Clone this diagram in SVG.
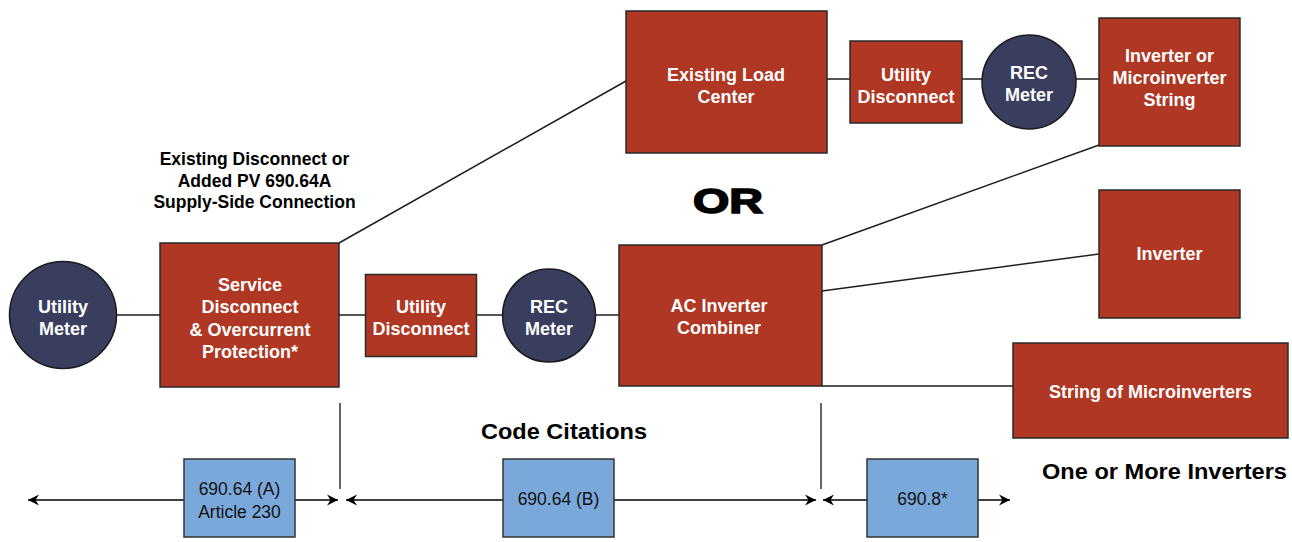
<svg xmlns="http://www.w3.org/2000/svg" width="1292" height="542" viewBox="0 0 1292 542">
<style>
.red{fill:#AF3723;stroke:#2a2a2a;stroke-width:1.5}
.navy{fill:#393D5E;stroke:#1a1a1a;stroke-width:1.5}
.blue{fill:#7BA8DA;stroke:#333;stroke-width:1.5}
.wt{font-family:"Liberation Sans",Arial,sans-serif;font-weight:bold;font-size:18px;fill:#fff;text-anchor:middle}
.bt{font-family:"Liberation Sans",Arial,sans-serif;font-size:17.5px;fill:#111;text-anchor:middle}
.hd{font-family:"Liberation Sans",Arial,sans-serif;font-weight:bold;fill:#000;text-anchor:middle}
.ln{stroke:#1e1e1e;stroke-width:1.5;fill:none}
.vl{stroke:#555;stroke-width:1.8;fill:none}
.ar{stroke:#000;stroke-width:1.5;fill:none;marker-end:url(#ah)}
</style>
<defs>
<marker id="ah" viewBox="0 0 12 12" refX="11" refY="6" markerWidth="12" markerHeight="12" markerUnits="userSpaceOnUse" orient="auto">
<path d="M11,6 L0,0.5 L3.5,6 L0,11.5 Z" fill="#000"/>
</marker>
</defs>
<rect width="1292" height="542" fill="#fff"/>
<g id="connectors">
<line class="ln" x1="116" y1="315" x2="160" y2="315"/>
<line class="ln" x1="339" y1="315" x2="365" y2="315"/>
<line class="ln" x1="477" y1="315" x2="502" y2="315"/>
<line class="ln" x1="596" y1="315" x2="619" y2="315"/>
<line class="ln" x1="339" y1="243" x2="626" y2="81"/>
<line class="ln" x1="827" y1="79" x2="850" y2="79"/>
<line class="ln" x1="962" y1="79" x2="982" y2="79"/>
<line class="ln" x1="1076" y1="79" x2="1099" y2="79"/>
<line class="ln" x1="822" y1="245" x2="1099" y2="145"/>
<line class="ln" x1="822" y1="291" x2="1099" y2="254"/>
<line class="ln" x1="822" y1="386" x2="1013" y2="386"/>
<line class="vl" x1="340" y1="403" x2="340" y2="489"/>
<line class="vl" x1="821" y1="403" x2="821" y2="489"/>
<line class="ar" x1="184" y1="500" x2="28" y2="500"/>
<line class="ar" x1="295" y1="500" x2="338" y2="500"/>
<line class="ar" x1="503" y1="500" x2="346" y2="500"/>
<line class="ar" x1="614" y1="500" x2="816" y2="500"/>
<line class="ar" x1="867" y1="500" x2="823" y2="500"/>
<line class="ar" x1="978" y1="500" x2="1010" y2="500"/>
</g>
<g id="utility-meter">
<circle class="navy" cx="63" cy="315" r="53.5"/>
<text class="wt" x="63" y="313">Utility</text>
<text class="wt" x="63" y="335">Meter</text>
</g>
<g id="service-disconnect">
<rect class="red" x="160" y="243" width="179" height="144"/>
<text class="wt" x="250" y="291">Service</text>
<text class="wt" x="250" y="313">Disconnect</text>
<text class="wt" x="250" y="335.5">&amp; Overcurrent</text>
<text class="wt" x="250" y="357.5">Protection*</text>
</g>
<g id="utility-disconnect-1">
<rect class="red" x="365.5" y="274.5" width="111" height="82"/>
<text class="wt" x="421" y="313">Utility</text>
<text class="wt" x="421" y="335">Disconnect</text>
</g>
<g id="rec-meter-1">
<circle class="navy" cx="549" cy="315.5" r="46.5"/>
<text class="wt" x="549" y="313">REC</text>
<text class="wt" x="549" y="335">Meter</text>
</g>
<g id="ac-combiner">
<rect class="red" x="619" y="245" width="203" height="141"/>
<text class="wt" x="719" y="312">AC Inverter</text>
<text class="wt" x="719" y="334">Combiner</text>
</g>
<g id="load-center">
<rect class="red" x="626" y="11" width="201" height="142"/>
<text class="wt" x="726" y="81">Existing Load</text>
<text class="wt" x="726" y="103">Center</text>
</g>
<g id="utility-disconnect-2">
<rect class="red" x="850" y="41" width="112" height="82"/>
<text class="wt" x="906" y="81">Utility</text>
<text class="wt" x="906" y="103">Disconnect</text>
</g>
<g id="rec-meter-2">
<circle class="navy" cx="1029" cy="82" r="47"/>
<text class="wt" x="1029" y="79">REC</text>
<text class="wt" x="1029" y="101">Meter</text>
</g>
<g id="inverter-string">
<rect class="red" x="1099" y="18" width="141" height="128"/>
<text class="wt" x="1169.5" y="62">Inverter or</text>
<text class="wt" x="1169.5" y="84">Microinverter</text>
<text class="wt" x="1169.5" y="106">String</text>
</g>
<g id="inverter">
<rect class="red" x="1099" y="190" width="141" height="128"/>
<text class="wt" x="1169.5" y="260">Inverter</text>
</g>
<g id="string-micro">
<rect class="red" x="1013" y="343" width="275" height="95"/>
<text class="wt" x="1150.5" y="398">String of Microinverters</text>
</g>
<g id="box-a">
<rect class="blue" x="184" y="459" width="111" height="78"/>
<text class="bt" x="239.5" y="495">690.64 (A)</text>
<text class="bt" x="239.5" y="518">Article 230</text>
</g>
<g id="box-b">
<rect class="blue" x="503" y="459" width="111" height="78"/>
<text class="bt" x="558.5" y="505">690.64 (B)</text>
</g>
<g id="box-c">
<rect class="blue" x="867" y="459" width="111" height="78"/>
<text class="bt" x="922.5" y="505">690.8*</text>
</g>
<g id="labels">
<text class="hd" font-size="17.5" x="254.5" y="165">Existing Disconnect or</text>
<text class="hd" font-size="17.5" x="254.5" y="186.5">Added PV 690.64A</text>
<text class="hd" font-size="17.5" x="254.5" y="208">Supply-Side Connection</text>
<text class="hd" font-size="35" x="728" y="213" textLength="70" lengthAdjust="spacingAndGlyphs" stroke="#000" stroke-width="1.6">OR</text>
<text class="hd" font-size="22" x="564" y="439" textLength="166" lengthAdjust="spacingAndGlyphs">Code Citations</text>
<text class="hd" font-size="22" x="1164.5" y="479" textLength="245" lengthAdjust="spacingAndGlyphs">One or More Inverters</text>
</g>
</svg>
